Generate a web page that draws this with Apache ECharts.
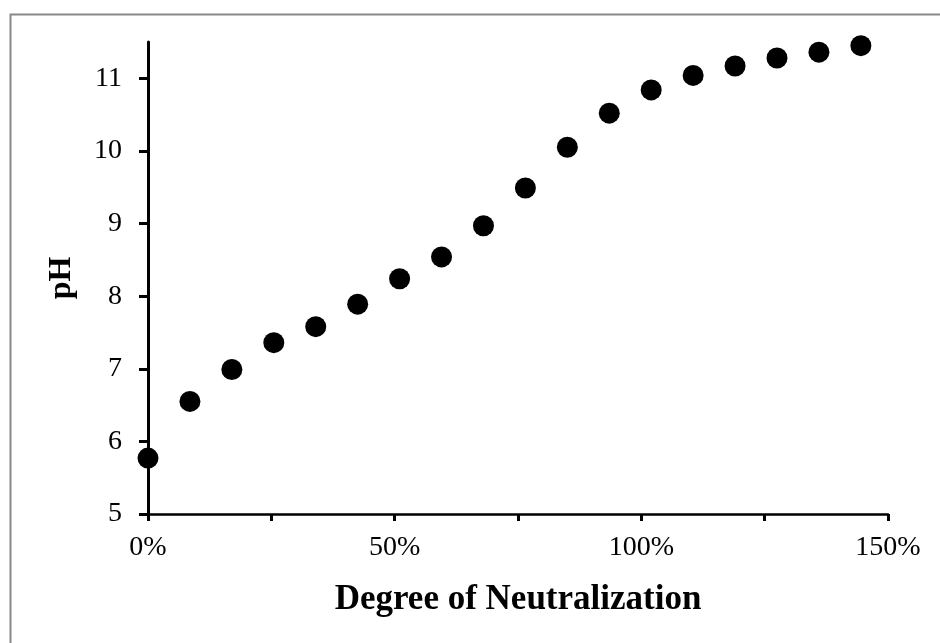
<!DOCTYPE html>
<html>
<head>
<meta charset="utf-8">
<script src="https://cdn.jsdelivr.net/npm/echarts@6/dist/echarts.min.js"></script>
<style>
  html, body { margin: 0; padding: 0; background: #fff; }
  #chart { width: 940px; height: 643px; }
</style>
</head>
<body>
<div id="chart"></div>
<script>
// Titration curve: pH against degree of neutralization (%)
const neutralization = [0, 8.5, 17.0, 25.5, 34.0, 42.5, 51.0, 59.5, 68.0, 76.5, 85.0, 93.5, 102.0, 110.5, 119.0, 127.5, 136.0, 144.5];
const pH = [5.77, 6.55, 6.99, 7.36, 7.58, 7.89, 8.24, 8.54, 8.97, 9.49, 10.05, 10.52, 10.84, 11.04, 11.17, 11.28, 11.36, 11.45];

const xTicks = [0, 25, 50, 75, 100, 125, 150];
const xLabels = [0, 50, 100, 150];
const yTicks = [5, 6, 7, 8, 9, 10, 11];

const xTitle = 'Degree of Neutralization';
const yTitle = 'pH';

const points = neutralization.map((x, i) => [x, pH[i]]);

const serif = '"Liberation Serif", "Times New Roman", serif';

const chart = echarts.init(document.getElementById('chart'), null, { renderer: 'canvas' });
chart.setOption({
  animation: false,
  backgroundColor: '#fff',
  graphic: [{
    type: 'rect',
    left: 8, top: 12,
    shape: { width: 960, height: 660 },
    style: { fill: 'none', stroke: '#888', lineWidth: 2 },
    silent: true
  }],
  grid: { left: 148, right: 52, top: 42, bottom: 129 },
  xAxis: {
    type: 'value',
    min: 0, max: 150, interval: 25,
    name: xTitle,
    nameLocation: 'middle',
    nameGap: 68,
    nameTextStyle: { fontFamily: serif, fontWeight: 'bold', fontSize: 35, color: '#000' },
    axisLine: { show: true, onZero: false, lineStyle: { color: '#000', width: 2.5 } },
    axisTick: { show: true, length: 7, customValues: xTicks, lineStyle: { color: '#000', width: 3 } },
    axisLabel: {
      customValues: xLabels,
      formatter: v => v + '%',
      fontFamily: serif, fontSize: 28, color: '#000', margin: 20
    },
    splitLine: { show: false }
  },
  yAxis: {
    type: 'value',
    min: 5, max: 11.5, interval: 1,
    name: yTitle,
    nameLocation: 'middle',
    nameGap: 70,
    nameRotate: 90,
    nameTextStyle: { fontFamily: serif, fontWeight: 'bold', fontSize: 32, color: '#000' },
    axisLine: { show: true, lineStyle: { color: '#000', width: 3 } },
    axisTick: { show: true, length: 9, customValues: yTicks, lineStyle: { color: '#000', width: 3 } },
    axisLabel: {
      customValues: yTicks,
      fontFamily: serif, fontSize: 28, color: '#000', margin: 26
    },
    splitLine: { show: false }
  },
  series: [{
    type: 'scatter',
    data: points,
    symbol: 'circle',
    symbolSize: 21,
    itemStyle: { color: '#000', opacity: 1 },
    clip: false
  }]
});
</script>
</body>
</html>
